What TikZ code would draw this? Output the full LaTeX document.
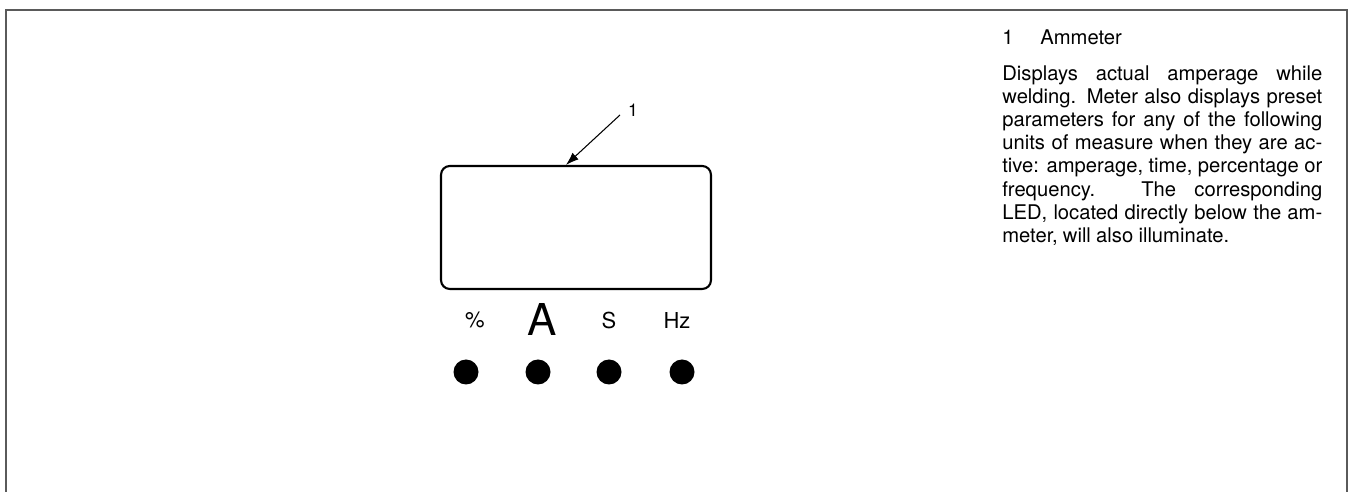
\documentclass[tikz,border=0pt]{standalone}
\usepackage{fontspec}
\setmainfont{TeX Gyre Heros}
\usetikzlibrary{arrows.meta,positioning,calc}
\definecolor{framegray}{HTML}{5A5A5A}
\begin{document}
\begin{tikzpicture}[x=0.02cm,y=-0.02cm,
    >={Latex[length=2.6mm,width=1.8mm]},
    frame/.style={draw=framegray,line width=1.1pt},
    display/.style={draw=black,line width=1.2pt,rounded corners=5pt,minimum width=5.4cm,minimum height=2.46cm,inner sep=0pt},
    unit/.style={font=\fontsize{12.5}{14}\selectfont,inner sep=0pt},
    bigunit/.style={font=\fontsize{25}{28}\selectfont,inner sep=0pt},
    led/.style={circle,fill=black,minimum size=0.5cm,inner sep=0pt},
    leader/.style={->,line width=0.6pt},
    callout/.style={font=\fontsize{10}{12}\selectfont,inner sep=0pt},
    key/.style={font=\fontsize{11.5}{13.2}\selectfont,inner sep=0pt,anchor=base west},
    keytext/.style={font=\fontsize{11.5}{13.2}\selectfont,inner sep=0pt,anchor=north west,text width=6.4cm,align=justify}]
\useasboundingbox (0,0) rectangle (1349,492);
% ===== open outer frame =====
\draw[frame] (6,492) -- (6,10) -- (1347,10) -- (1347,492);
% ===== ammeter display =====
\node[display] (disp) at (576,227.5) {};
% ===== unit labels =====
\node[unit]    (upct) at (475,320) {\%};
\node[bigunit] (uamp) at (542,319) {A};
\node[unit]    (usec) at (609,320) {S};
\node[unit]    (uhz)  at (677,320) {Hz};
% ===== LEDs =====
\node[led] (ledpct) at (466,372) {};
\node[led] (ledamp) at (538,372) {};
\node[led] (ledsec) at (609,372) {};
\node[led] (ledhz)  at (682,372) {};
% ===== callout 1 =====
\node[callout] (num) at (633,110) {1};
\coordinate (lead) at (620,115);
\draw[leader] (lead) -- ($(disp.north west)!0.463!(disp.north east)$);
% ===== key text =====
\node[key] (keyno)   at (1002,45) {1};
\node[key] (keyname) at (1040,45) {Ammeter};
\node[keytext] (keydesc) at (1002,65) {\tolerance=9999\hyphenpenalty=10000
  \spaceskip=0.26em plus 0.6em minus 0.1em
  Displays actual amperage while\linebreak
  welding. Meter also displays preset\linebreak
  parameters for any of the following\linebreak
  units of measure when they are ac-\linebreak
  tive: amperage, time, percentage or\linebreak
  frequency. The corresponding\linebreak
  LED, located directly below the am-\linebreak
  meter, will also illuminate.};
\end{tikzpicture}
\end{document}
